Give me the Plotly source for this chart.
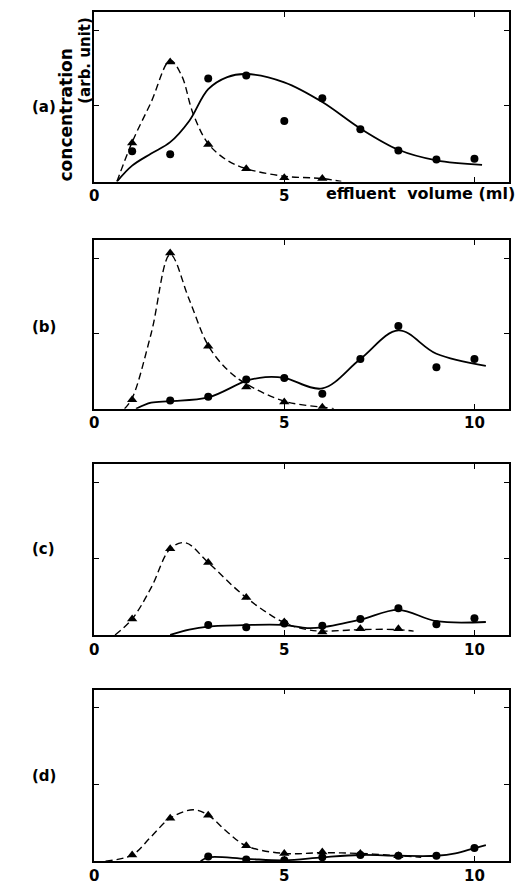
import plotly.graph_objects as go

# ---------------- data ----------------
vol = [1, 2, 3, 4, 5, 6, 7, 8, 9, 10]

# panel (a)
a_tri_x = [1, 2, 3, 4, 5, 6]
a_tri_y = [0.51, 1.58, 0.49, 0.17, 0.05, 0.04]
a_circ_y = [0.40, 0.36, 1.36, 1.40, 0.80, 1.10, 0.69, 0.41, 0.29, 0.30]
a_dash_x = [0.6, 1.0, 1.5, 2.0, 2.3, 2.6, 3.0, 3.5, 4.0, 5.0, 6.0, 6.5]
a_dash_y = [0.0, 0.52, 1.05, 1.60, 1.40, 0.90, 0.50, 0.28, 0.17, 0.07, 0.04, 0.0]
a_solid_x = [0.6, 1.0, 1.5, 2.0, 2.5, 3.0, 3.5, 4.0, 5.0, 6.0, 7.0, 8.0, 9.0, 10.2]
a_solid_y = [0.0, 0.21, 0.37, 0.52, 0.80, 1.22, 1.38, 1.42, 1.31, 1.05, 0.70, 0.42, 0.28, 0.22]

# panel (b)
b_tri_x = [1, 2, 3, 4, 5, 6]
b_tri_y = [0.12, 2.07, 0.83, 0.29, 0.09, 0.02]
b_circ_x = [2, 3, 4, 5, 6, 7, 8, 9, 10]
b_circ_y = [0.11, 0.16, 0.39, 0.41, 0.20, 0.66, 1.10, 0.55, 0.66]
b_dash_x = [0.8, 1.0, 1.5, 2.0, 2.5, 3.0, 3.5, 4.0, 5.0, 6.0, 6.3]
b_dash_y = [0.0, 0.14, 1.00, 2.05, 1.45, 0.84, 0.52, 0.33, 0.10, 0.02, 0.0]
b_solid_x = [1.1, 1.5, 2.0, 3.0, 4.0, 4.5, 5.0, 6.0, 7.0, 8.0, 9.0, 10.3]
b_solid_y = [0.0, 0.08, 0.10, 0.15, 0.37, 0.42, 0.41, 0.27, 0.66, 1.04, 0.73, 0.57]

# panel (c)
c_tri_x = [1, 2, 3, 4, 5, 6, 7, 8]
c_tri_y = [0.21, 1.13, 0.95, 0.49, 0.17, 0.04, 0.08, 0.08]
c_circ_x = [3, 4, 5, 6, 7, 8, 9, 10]
c_circ_y = [0.13, 0.10, 0.15, 0.12, 0.21, 0.35, 0.14, 0.22]
c_dash_x = [0.55, 1.0, 1.5, 2.0, 2.4, 3.0, 4.0, 5.0, 5.6, 6.0, 7.0, 8.0, 8.4]
c_dash_y = [0.0, 0.21, 0.62, 1.13, 1.21, 0.95, 0.49, 0.16, 0.07, 0.05, 0.07, 0.07, 0.05]
c_solid_x = [2.0, 2.5, 3.0, 4.0, 5.0, 5.6, 6.0, 7.0, 8.0, 9.0, 10.3]
c_solid_y = [0.0, 0.07, 0.11, 0.13, 0.13, 0.09, 0.10, 0.20, 0.33, 0.18, 0.17]

# panel (d)
d_tri_x = [1, 2, 3, 4, 5, 6, 7, 8]
d_tri_y = [0.08, 0.56, 0.60, 0.20, 0.10, 0.12, 0.10, 0.07]
d_circ_x = [3, 4, 5, 6, 7, 8, 9, 10]
d_circ_y = [0.06, 0.02, 0.01, 0.05, 0.08, 0.07, 0.07, 0.17]
d_dash_x = [0.3, 1.0, 1.5, 2.0, 2.6, 3.0, 3.5, 4.0, 5.0, 6.0, 7.0, 8.0, 8.6]
d_dash_y = [0.0, 0.08, 0.32, 0.56, 0.67, 0.60, 0.38, 0.20, 0.10, 0.11, 0.10, 0.07, 0.05]
d_solid_x = [2.8, 3.0, 4.0, 5.0, 6.0, 7.0, 8.0, 9.0, 9.5, 10.0, 10.3]
d_solid_y = [0.0, 0.05, 0.03, 0.01, 0.05, 0.08, 0.07, 0.07, 0.10, 0.17, 0.21]

panel_labels = ["(a)", "(b)", "(c)", "(d)"]
x_ticks = [0, 5, 10]
y_ticks = [1, 2]

panels = [
    dict(tx=a_tri_x, ty=a_tri_y, cx=vol, cy=a_circ_y, dx=a_dash_x, dy=a_dash_y, sx=a_solid_x, sy=a_solid_y),
    dict(tx=b_tri_x, ty=b_tri_y, cx=b_circ_x, cy=b_circ_y, dx=b_dash_x, dy=b_dash_y, sx=b_solid_x, sy=b_solid_y),
    dict(tx=c_tri_x, ty=c_tri_y, cx=c_circ_x, cy=c_circ_y, dx=c_dash_x, dy=c_dash_y, sx=c_solid_x, sy=c_solid_y),
    dict(tx=d_tri_x, ty=d_tri_y, cx=d_circ_x, cy=d_circ_y, dx=d_dash_x, dy=d_dash_y, sx=d_solid_x, sy=d_solid_y),
]

# ---------------- layout geometry (pixels) ----------------
W, H = 515, 885
left_px, right_px = 90, 509
tops = [12, 242, 468, 695]
bottoms = [183, 412, 640, 868]
label_y = [108, 330, 553, 782]

FONT = "DejaVu Sans"
fig = go.Figure()
layout = dict(
    width=W, height=H, margin=dict(l=0, r=0, t=0, b=0),
    paper_bgcolor="white", plot_bgcolor="white", showlegend=False,
)

annotations = []
for i, p in enumerate(panels):
    n = "" if i == 0 else str(i + 1)
    xa, ya = "x" + n, "y" + n
    fig.add_trace(go.Scatter(x=p["dx"], y=p["dy"], mode="lines", line_shape="spline",
                             line=dict(color="black", width=1.4, dash="7px,4px"),
                             xaxis=xa, yaxis=ya, hoverinfo="skip"))
    fig.add_trace(go.Scatter(x=p["sx"], y=p["sy"], mode="lines", line_shape="spline",
                             line=dict(color="black", width=1.8),
                             xaxis=xa, yaxis=ya, hoverinfo="skip"))
    fig.add_trace(go.Scatter(x=p["tx"], y=p["ty"], mode="markers",
                             marker=dict(symbol="triangle-up", size=9, color="black"),
                             xaxis=xa, yaxis=ya))
    fig.add_trace(go.Scatter(x=p["cx"], y=p["cy"], mode="markers",
                             marker=dict(symbol="circle", size=8, color="black"),
                             xaxis=xa, yaxis=ya))
    y0 = 1 - bottoms[i] / H
    y1 = 1 - tops[i] / H
    ticktext = ["0", "5", ""] if i == 0 else ["0", "5", "10"]
    layout["xaxis" + n] = dict(
        domain=[left_px / W, right_px / W], range=[0, 10.91], anchor=ya,
        tickvals=x_ticks, ticktext=ticktext, ticks="inside", ticklen=5, tickwidth=1.2,
        tickcolor="black", showline=True, linecolor="black", linewidth=1.5, mirror="ticks",
        showgrid=False, zeroline=False,
        tickfont=dict(family=FONT, size=15, color="black", weight="bold"),
    )
    layout["yaxis" + n] = dict(
        domain=[y0, y1], range=[0, 2.24], anchor=xa,
        tickvals=y_ticks, showticklabels=False, ticks="inside", ticklen=5, tickwidth=1.2,
        tickcolor="black", showline=True, linecolor="black", linewidth=1.5, mirror="ticks",
        showgrid=False, zeroline=False,
    )
    annotations.append(dict(text=panel_labels[i], x=39 / W, y=1 - label_y[i] / H,
                            xref="paper", yref="paper", xanchor="center", yanchor="middle",
                            showarrow=False,
                            font=dict(family=FONT, size=15, color="black", weight="bold")))

annotations.append(dict(text="effluent  volume (ml)", x=322 / W, y=1 - 195 / H,
                        xref="paper", yref="paper", xanchor="left", yanchor="middle",
                        showarrow=False,
                        font=dict(family=FONT, size=16, color="black", weight="bold")))
annotations.append(dict(text="concentration", x=62 / W, y=1 - 116 / H, textangle=-90,
                        xref="paper", yref="paper", xanchor="center", yanchor="middle",
                        showarrow=False,
                        font=dict(family=FONT, size=17, color="black", weight="bold")))
annotations.append(dict(text="(arb. unit)", x=80 / W, y=1 - 61 / H, textangle=-90,
                        xref="paper", yref="paper", xanchor="center", yanchor="middle",
                        showarrow=False,
                        font=dict(family=FONT, size=15, color="black", weight="bold")))
layout["annotations"] = annotations

fig.update_layout(**layout)
fig.write_html("out.html")
